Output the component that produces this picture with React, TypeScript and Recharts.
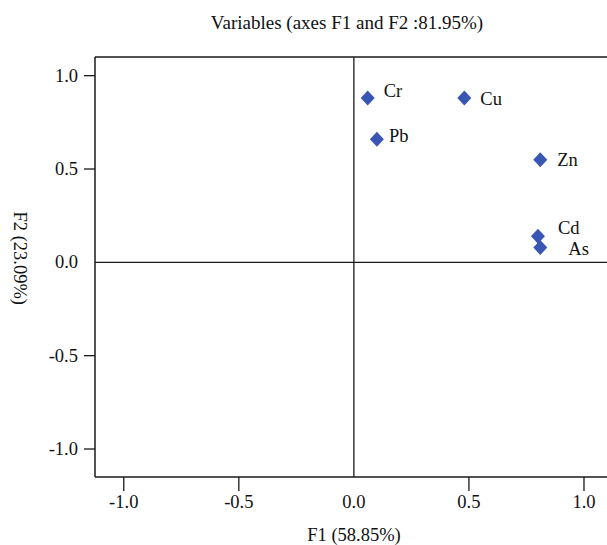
import React from 'react';
import { ScatterChart, Scatter, XAxis, YAxis, ReferenceLine } from 'recharts';

const categories = ['Cr', 'Cu', 'Pb', 'Zn', 'Cd', 'As'];
const f1Values = [0.06, 0.48, 0.1, 0.81, 0.8, 0.81];
const f2Values = [0.88, 0.88, 0.66, 0.55, 0.14, 0.08];
const xTicks = [-1, -0.5, 0, 0.5, 1];
const yTicks = [-1, -0.5, 0, 0.5, 1];

const data = categories.map((name, i) => ({ name, x: f1Values[i], y: f2Values[i] }));

const FONT = '"Liberation Serif", "Times New Roman", serif';
const FS = 18.5;
const TXT = '#111';
const LINE = '#1a1a1a';
const MARK = '#3A56B4';
const X_DOMAIN: [number, number] = [-1.125, 1.1];
const Y_DOMAIN: [number, number] = [-1.15, 1.1];

// label offsets (text start, text centre) relative to marker centre
const labelOffsets: Record<string, [number, number]> = {
  Cr: [16, -7],
  Cu: [16, 1],
  Pb: [12, -3],
  Zn: [17, 0],
  Cd: [20, -8],
  As: [28, 2],
};

const XTick = (props: any) => {
  const { x, y, payload } = props;
  const v = payload.value as number;
  return (
    <g>
      {v !== 0 && <line x1={x} x2={x} y1={y} y2={y + 14} stroke={LINE} strokeWidth={1.3} />}
      <text x={x} y={y + 25} textAnchor="middle" dominantBaseline="central" fontFamily={FONT} fontSize={FS} fill={TXT}>
        {v.toFixed(1)}
      </text>
    </g>
  );
};

const YTick = (props: any) => {
  const { x, y, payload } = props;
  const v = payload.value as number;
  return (
    <g>
      {v !== 0 && <line x1={x - 11} x2={x} y1={y} y2={y} stroke={LINE} strokeWidth={1.3} />}
      <text x={x - 17} y={y} textAnchor="end" dominantBaseline="central" fontFamily={FONT} fontSize={FS} fill={TXT}>
        {v.toFixed(1)}
      </text>
    </g>
  );
};

const DiamondShape = (props: any) => {
  const { cx, cy, payload } = props;
  const hw = 7;
  const hh = 7.5;
  const off = labelOffsets[payload.name] || [14, 0];
  return (
    <g>
      <path d={`M${cx},${cy - hh}L${cx + hw},${cy}L${cx},${cy + hh}L${cx - hw},${cy}Z`} fill={MARK} />
      <text x={cx + off[0]} y={cy + off[1]} dominantBaseline="central" fontFamily={FONT} fontSize={FS} fill={TXT}>
        {payload.name}
      </text>
    </g>
  );
};

export default function App() {
  return (
    <div style={{ position: 'relative', width: 607, height: 545, fontFamily: FONT, color: TXT, overflow: 'hidden' }}>
      <style>{'html,body{margin:0;padding:0;overflow:hidden;}'}</style>
      <div style={{ position: 'absolute', left: 97, width: 500, top: 22.5 - 9.5, textAlign: 'center', fontSize: 19, lineHeight: 1, whiteSpace: 'nowrap' }}>
        Variables (axes F1 and F2 :81.95%)
      </div>
      <ScatterChart width={607} height={545} margin={{ top: 57, right: 0, bottom: 0, left: 0 }}>
        <XAxis
          type="number"
          dataKey="x"
          domain={X_DOMAIN}
          allowDataOverflow
          ticks={xTicks}
          height={68}
          tickLine={false}
          tickSize={0}
          tickMargin={0}
          tick={<XTick />}
          axisLine={{ stroke: LINE, strokeWidth: 1.5 }}
          interval={0}
        />
        <YAxis
          type="number"
          dataKey="y"
          domain={Y_DOMAIN}
          allowDataOverflow
          ticks={yTicks}
          width={95}
          tickLine={false}
          tickSize={0}
          tickMargin={0}
          tick={<YTick />}
          axisLine={{ stroke: LINE, strokeWidth: 1.5 }}
          interval={0}
        />
        <ReferenceLine y={Y_DOMAIN[1]} stroke={LINE} strokeWidth={1.5} />
        <ReferenceLine x={0} stroke={LINE} strokeWidth={1.3} />
        <ReferenceLine y={0} stroke={LINE} strokeWidth={1.3} />
        <Scatter data={data} shape={<DiamondShape />} isAnimationActive={false} />
      </ScatterChart>
      <div style={{ position: 'absolute', left: 204, width: 300, top: 535 - FS / 2, textAlign: 'center', fontSize: FS, lineHeight: 1, whiteSpace: 'nowrap' }}>
        F1 (58.85%)
      </div>
      <div style={{ position: 'absolute', left: 20 - 60, top: 258 - FS / 2, width: 120, textAlign: 'center', fontSize: FS, lineHeight: 1, whiteSpace: 'nowrap', transform: 'rotate(90deg)' }}>
        F2 (23.09%)
      </div>
    </div>
  );
}
